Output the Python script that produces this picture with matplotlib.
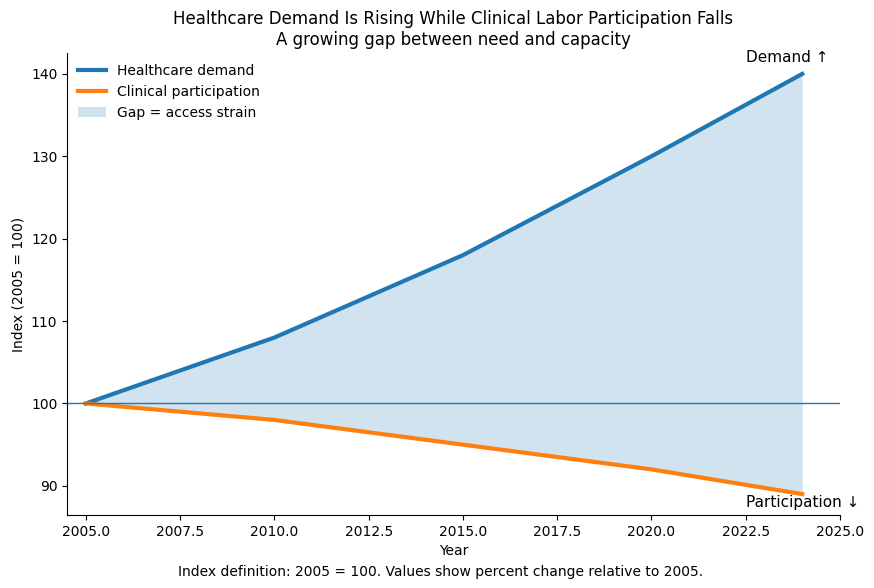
import matplotlib.pyplot as plt

years = [2005, 2010, 2015, 2020, 2024]
demand = [100, 108, 118, 130, 140]
participation = [100, 98, 95, 92, 89]

fig = plt.figure(figsize=(8.74, 5.88), dpi=100)
ax = fig.add_axes([0.0767, 0.124, 0.8843, 0.786])

ax.plot(years, demand, linewidth=3, color="tab:blue", label="Healthcare demand")
ax.plot(years, participation, linewidth=3, color="tab:orange", label="Clinical participation")
ax.fill_between(years, participation, demand, color="tab:blue", alpha=0.2, linewidth=0,
                label="Gap = access strain")
ax.axhline(100, linewidth=1, color="tab:blue")

ax.set_xlim(2004.5, 2025)

# end labels
ax.text(years[-1] - 0.4, demand[-1] + 1.1, "Demand \u2191", ha="center", va="bottom", fontsize=11)
ax.text(years[-1], participation[-1] - 0.1, "Participation \u2193", ha="center", va="top", fontsize=11)

ax.set_title("Healthcare Demand Is Rising While Clinical Labor Participation Falls\n"
             "A growing gap between need and capacity", fontsize=12)
ax.set_xlabel("Year")
ax.set_ylabel("Index (2005 = 100)")
ax.spines["top"].set_visible(False)
ax.spines["right"].set_visible(False)
ax.legend(loc="upper left", frameon=False, borderaxespad=0.4)

fig.text(0.504, 0.021, "Index definition: 2005 = 100. Values show percent change relative to 2005.",
         ha="center", fontsize=10)

fig.savefig("out.png", dpi=100)
